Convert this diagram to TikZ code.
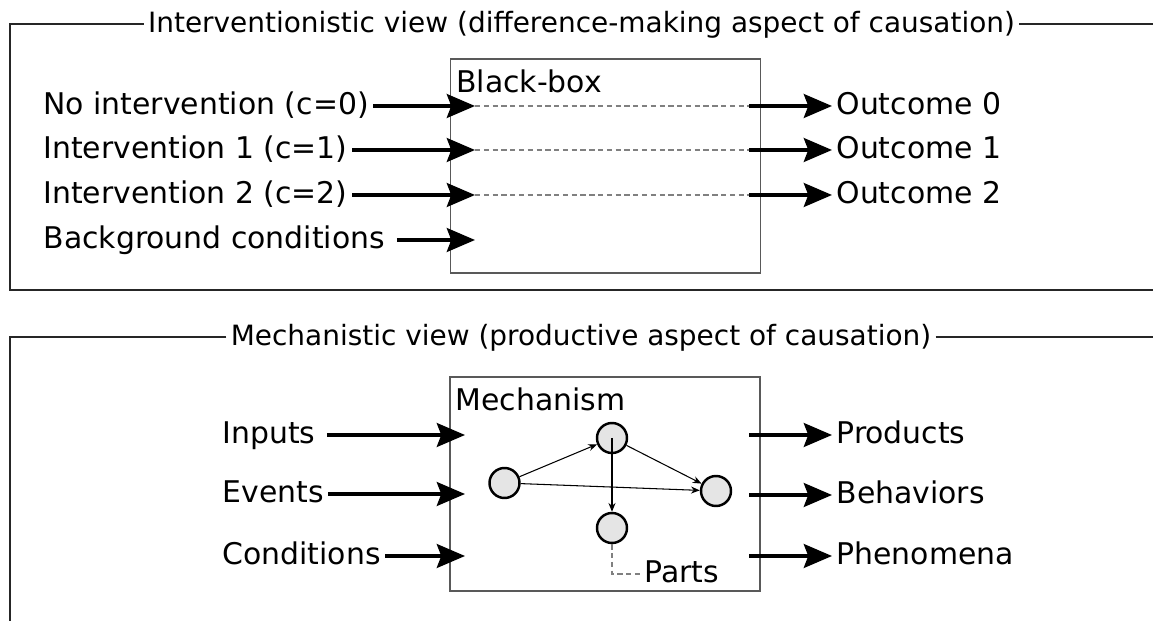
\documentclass[tikz,border=0pt]{standalone}
\usepackage{fontspec}
\setmainfont{DejaVu Sans}
\usetikzlibrary{arrows.meta}

\begin{document}
\begin{tikzpicture}[line width=0.6pt,
  every node/.style={font=\fontsize{17}{20}\selectfont},
  lbl/.style={inner sep=0.08cm,text height=13.3pt,text depth=3.7pt},
  ttl/.style={lbl,font=\fontsize{15.9}{19}\selectfont},
  boxttl/.style={anchor=north west,inner xsep=0.12cm,inner ysep=0.22cm},
  box/.style={draw=black!65,line width=0.8pt,minimum width=6.2cm,minimum height=4.28cm},
  part/.style={draw,circle,fill=black!10,line width=1.4pt,minimum size=0.6cm,inner sep=0pt},
  frame/.style={draw=black!85,line width=1.1pt},
  big/.style={-{Stealth[length=16pt,width=13.5pt,inset=2.5pt]},line width=2.3pt},
  link/.style={-{Stealth[length=5pt,width=4pt]},line width=0.6pt},
  hint/.style={draw=black!50,dash pattern=on 3pt off 2pt,line width=0.6pt}]
\useasboundingbox (0,0) rectangle (23.06,-12.42);
% interventionistic view
\node[ttl] (topttl) at (11.63,-0.48) {Interventionistic view (difference-making aspect of causation)};
\coordinate (topr) at (23.06,-0.48);
\coordinate (topbr) at (23.06,-5.8);
\draw[frame] (topttl.west) -| (0.2,-5.8) -- (topbr);
\draw[frame] (topttl.east) -- (topr);
\node[box] (bbox) at (12.11,-3.32) {};
\node[boxttl] (bbttl) at (bbox.north west) {Black-box};
\node[lbl,anchor=west] (nointv) at (0.78,-2.12) {No intervention (c=0)};
\node[lbl,anchor=west] (intv1) at (0.78,-3.0) {Intervention 1 (c=1)};
\node[lbl,anchor=west] (intv2) at (0.78,-3.9) {Intervention 2 (c=2)};
\node[lbl,anchor=west] (bgcond) at (0.78,-4.8) {Background conditions};
\coordinate (in0) at (9.5,-2.12);
\coordinate (in1) at (9.5,-3.0);
\coordinate (in2) at (9.5,-3.9);
\coordinate (in3) at (9.5,-4.8);
\coordinate (out0) at (14.98,-2.12);
\coordinate (out1) at (14.98,-3.0);
\coordinate (out2) at (14.98,-3.9);
\node[lbl,anchor=west] (outc0) at (16.64,-2.12) {Outcome 0};
\node[lbl,anchor=west] (outc1) at (16.64,-3.0) {Outcome 1};
\node[lbl,anchor=west] (outc2) at (16.64,-3.9) {Outcome 2};
\draw[big] (nointv.east) -- (in0);
\draw[big] (intv1.east) -- (in1);
\draw[big] (intv2.east) -- (in2);
\draw[big] ([xshift=0.15cm]bgcond.east) -- (in3);
\draw[hint] (in0) -- (out0);
\draw[hint] (in1) -- (out1);
\draw[hint] (in2) -- (out2);
\draw[big] (out0) -- (outc0.west);
\draw[big] (out1) -- (outc1.west);
\draw[big] (out2) -- (outc2.west);
% mechanistic view
\node[ttl] (botttl) at (11.62,-6.74) {Mechanistic view (productive aspect of causation)};
\coordinate (botr) at (23.06,-6.74);
\draw[frame] (botttl.west) -| (0.2,-12.42);
\draw[frame] (botttl.east) -- (botr);
\node[box] (mbox) at (12.1,-9.68) {};
\node[boxttl] (mttl) at (mbox.north west) {Mechanism};
\node[lbl,anchor=west] (inputs) at (4.36,-8.7) {Inputs};
\node[lbl,anchor=west] (events) at (4.36,-9.88) {Events};
\node[lbl,anchor=west] (conds) at (4.36,-11.12) {Conditions};
\coordinate (tipi) at (9.3,-8.7);
\coordinate (tipe) at (9.3,-9.88);
\coordinate (tipc) at (9.3,-11.12);
\draw[big] ([xshift=0.14cm]inputs.east) -- (tipi);
\draw[big] (events.east) -- (tipe);
\draw[big] (conds.east) -- (tipc);
\coordinate (outp) at (14.98,-8.7);
\coordinate (outb) at (14.98,-9.9);
\coordinate (outh) at (14.98,-11.12);
\node[lbl,anchor=west] (prods) at (16.64,-8.7) {Products};
\node[lbl,anchor=west] (behav) at (16.64,-9.9) {Behaviors};
\node[lbl,anchor=west] (phen) at (16.64,-11.12) {Phenomena};
\draw[big] (outp) -- (prods.west);
\draw[big] (outb) -- (behav.west);
\draw[big] (outh) -- (phen.west);
\node[part] (pa) at (10.09,-9.66) {};
\node[part] (pb) at (12.24,-8.76) {};
\node[part] (pc) at (14.32,-9.82) {};
\node[part] (pd) at (12.24,-10.56) {};
\draw[link] (pa) -- (pb);
\draw[link] (pa) -- (pc);
\draw[link] (pb) -- (pc);
\draw[link] (pb.center) -- (pd);
\node[lbl,anchor=west] (parts) at (12.8,-11.48) {Parts};
\draw[hint] (pd) |- (parts.west);
\end{tikzpicture}
\end{document}
